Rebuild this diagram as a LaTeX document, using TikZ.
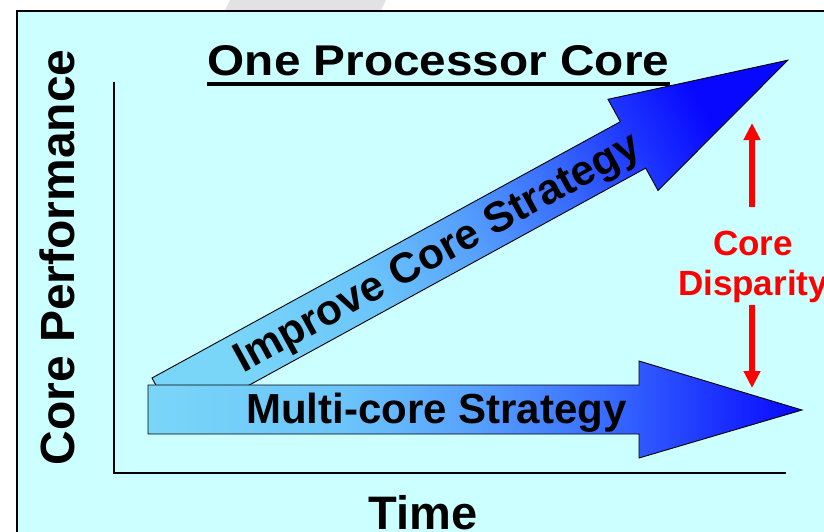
\documentclass[tikz,border=0pt]{standalone}
\usepackage{fontspec}
\setmainfont{Liberation Sans}
\usetikzlibrary{arrows.meta}
\definecolor{bgcyan}{RGB}{204,255,255}
\definecolor{wmgray}{RGB}{226,226,228}
\definecolor{pureRed}{RGB}{255,0,0}
\pgfdeclarehorizontalshading{arrowshade}{100bp}{%
  rgb(0bp)=(0.478,0.839,0.973);
  rgb(25bp)=(0.478,0.839,0.973);
  rgb(40bp)=(0.420,0.770,0.980);
  rgb(50bp)=(0.340,0.630,0.990);
  rgb(60bp)=(0.220,0.420,1.000);
  rgb(67.5bp)=(0.120,0.220,1.000);
  rgb(75bp)=(0.030,0.030,1.000);
  rgb(100bp)=(0.030,0.030,1.000)}
\tikzset{
  bigarrow/.style={draw=black, line width=0.9pt, line join=miter, shading=arrowshade},
  axisline/.style={draw=black, line width=2.4pt},
  lbl/.style={font=\bfseries\fontsize{#1}{#1}\selectfont, inner sep=0pt, text=black},
  redlbl/.style={font=\bfseries\fontsize{35}{35}\selectfont, inner sep=0pt, text=pureRed},
  redarrow/.style={draw=pureRed, line width=6pt, -{Triangle[width=16pt,length=17pt]}},
}
\begin{document}
\begin{tikzpicture}[x=1pt,y=-1pt]
\useasboundingbox (0,0) rectangle (824,531);
\clip (0,0) rectangle (824,531);
% watermark
\fill[wmgray] (230,0) -- (386,0) -- (381,10) -- (225,10) -- cycle;
% frame
\draw[fill=bgcyan, line width=2.5pt] (17,11) rectangle (840,545);
% axes
\coordinate (yaxtop) at (114,82);
\coordinate (origin) at (114,473);
\coordinate (xaxend) at (786,473);
\draw[axisline] (yaxtop) -- (origin) -- (xaxend);
% improve core arrow
\path[bigarrow, shading angle=28.7]
  (152.0,378.0) -- (620.3,121.7) -- (608.0,99.3) -- (787.8,60.2) -- (658.0,190.5)
  -- (645.7,168.1) -- (177.4,424.4) -- cycle;
\node[lbl=42.5, rotate=28.7, anchor=base] (improve) at (443,264) {Improve Core Strategy};
% multi-core arrow
\path[bigarrow, shading angle=0]
  (148,385) -- (639,385) -- (639,361) -- (802,410) -- (639,458) -- (639,434) -- (148,434) -- cycle;
\node[lbl=42, anchor=base] (multi) at (436.5,423) {Multi-core Strategy};
% title
\node[lbl=43, anchor=base] (title) at (438.5,75) {\scalebox{1.11}[1]{One Processor Core}};
\coordinate (ulL) at (207,84);
\coordinate (ulR) at (670,84);
\draw[line width=4pt] (ulL) -- (ulR);
% axis labels
\node[lbl=48, rotate=90, anchor=base] (ylab) at (74.5,257.5) {Core Performance};
\node[lbl=47, anchor=base] (xlab) at (423,529) {Time};
% core disparity
\node[redlbl, anchor=base] (core) at (753,255) {Core};
\node[redlbl, anchor=base] (disp) at (753,295) {Disparity};
\coordinate (upstart) at (752,207);
\coordinate (uptip) at (752,123);
\coordinate (dnstart) at (752,305);
\coordinate (dntip) at (752,388);
\draw[redarrow] (upstart) -- (uptip);
\draw[redarrow] (dnstart) -- (dntip);
\end{tikzpicture}
\end{document}
